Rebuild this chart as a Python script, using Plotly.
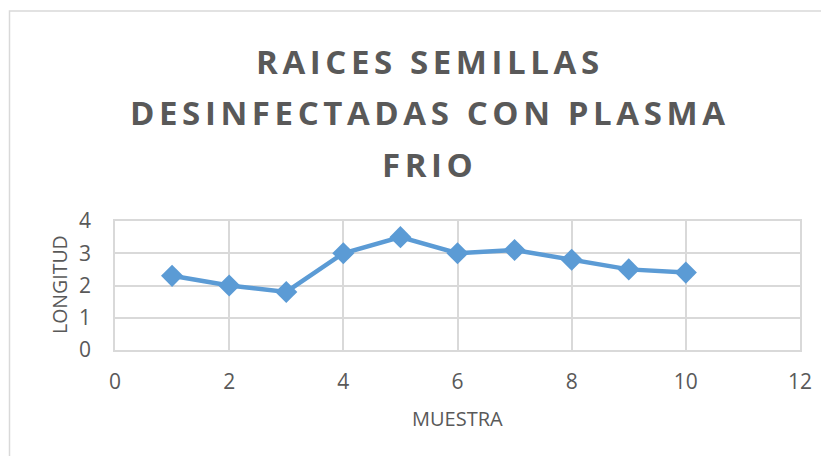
import plotly.graph_objects as go

muestra = [1, 2, 3, 4, 5, 6, 7, 8, 9, 10]
longitud = [2.3, 2.0, 1.8, 3.0, 3.5, 3.0, 3.1, 2.8, 2.5, 2.4]
title_lines = ["RAICES SEMILLAS", "DESINFECTADAS CON PLASMA", "FRIO"]
x_ticks = [0, 2, 4, 6, 8, 10, 12]
y_ticks = [0, 1, 2, 3, 4]

GRAY = "#595959"
GRID = "#D9D9D9"
BLUE = "#5B9BD5"
FONT = "Open Sans"

OFF = 8  # page body margin
W, H = 829 - OFF, 456 - OFF
# plot area in page pixels: x 115..800, y 221..350
L = 115 - OFF
T = 221 - OFF
R = W - (800 - OFF)
B = H - (350 - OFF)
pw, ph = W - L - R, H - T - B


def px2x(px):
    return (px - OFF - L) / pw


def py2y(py):
    return (H - B - (py - OFF)) / ph


fig = go.Figure()
fig.add_trace(go.Scatter(
    x=muestra, y=longitud, mode="lines+markers",
    line=dict(color=BLUE, width=4.5),
    marker=dict(symbol="diamond", size=17, color=BLUE),
    showlegend=False, hoverinfo="x+y",
))

for line, py in zip(title_lines, [61, 112, 164]):
    fig.add_annotation(
        text='<span style="letter-spacing:4.6px">' + line + '</span>',
        xref="paper", yref="paper", x=px2x(430), y=py2y(py),
        xanchor="center", yanchor="middle", showarrow=False,
        font=dict(family=FONT, size=33, color=GRAY, weight="bold"),
    )

fig.add_annotation(text="MUESTRA", xref="paper", yref="paper",
                   x=0.5, y=py2y(418), xanchor="center", yanchor="middle",
                   showarrow=False, font=dict(family=FONT, size=20, color=GRAY))
fig.add_annotation(text="LONGITUD", xref="paper", yref="paper",
                   x=px2x(59), y=py2y(285), xanchor="center", yanchor="middle",
                   textangle=-90, showarrow=False,
                   font=dict(family=FONT, size=19.5, color=GRAY))

fig.add_shape(type="rect", xref="paper", yref="paper",
              x0=px2x(9.5), x1=px2x(829 + 20), y0=py2y(456 + 20), y1=py2y(11),
              line=dict(color=GRID, width=1.5), fillcolor="rgba(0,0,0,0)", layer="below")

fig.update_layout(
    width=W, height=H,
    margin=dict(l=L, r=R, t=T, b=B, pad=0),
    paper_bgcolor="white", plot_bgcolor="white",
    font=dict(family=FONT, color=GRAY, size=16),
    xaxis=dict(range=[0, 12], tickvals=x_ticks, showgrid=True, gridcolor=GRID,
               gridwidth=1.5, zeroline=False, showline=True, linecolor=GRID,
               linewidth=1.5, mirror=True, ticks="", ticklabelstandoff=12,
               tickfont=dict(size=21, color=GRAY, family=FONT)),
    yaxis=dict(range=[0, 4], tickvals=y_ticks, showgrid=True, gridcolor=GRID,
               gridwidth=1.5, zeroline=False, showline=True, linecolor=GRID,
               linewidth=1.5, mirror=True, ticks="", ticklabelstandoff=18,
               tickfont=dict(size=21, color=GRAY, family=FONT)),
)

fig.write_html("out.html")
